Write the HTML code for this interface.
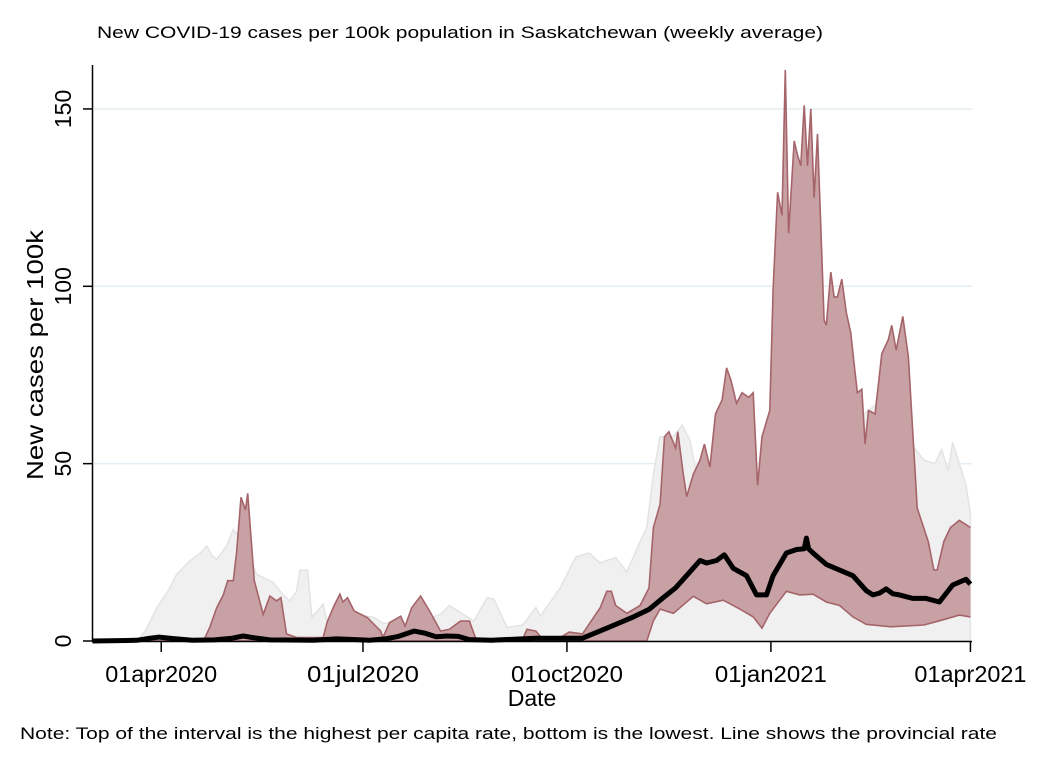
<!DOCTYPE html>
<html><head><meta charset="utf-8">
<style>
html,body{margin:0;padding:0;background:#fff;}
svg{display:block;font-family:"Liberation Sans",Arial,sans-serif;}
</style></head>
<body>
<svg id="chart" width="1050" height="764" viewBox="0 0 1050 764">
  <rect x="0" y="0" width="1050" height="764" fill="#fff"/>
  <text x="97" y="38" font-size="17" textLength="726" lengthAdjust="spacingAndGlyphs" fill="#000">New COVID-19 cases per 100k population in Saskatchewan (weekly average)</text>
  <g id="grid"></g>
  <g id="series"></g>
  <g id="axes"></g>
  <text x="532" y="706" font-size="23" text-anchor="middle">Date</text>
  <text transform="translate(43,355) rotate(-90)" font-size="23" text-anchor="middle" textLength="250" lengthAdjust="spacingAndGlyphs">New cases per 100k</text>
  <text x="20" y="739" font-size="17" textLength="977" lengthAdjust="spacingAndGlyphs">Note: Top of the interval is the highest per capita rate, bottom is the lowest. Line shows the provincial rate</text>
</svg>
<script>
// days since 01mar2020
const greyDays = [0,20,24,29,34,38,44,49,51.5,54,56,60.5,63.5,68,72,74,81.5,86,89,92,93.6,97,99,104,107,112,119,127,131,142,150,157,161,166,172,178,181,187,194,200,202,211,218,224,229,232,236,241,247,250,253,256,262,266,269.5,272.5,280,300,320,340,354,362,370,375,380,383,386,388,391,394,396];
const greyTop = [0,0,3,9.4,14,18.8,22.6,25,26.8,24,23,26.8,31.5,28,22,18.8,16.5,13,11.3,14,20,20,6.6,10.4,2,5,7.5,6.6,5,5,6,7.5,10,8,5.6,12.2,11.8,3.8,4.5,9.4,7,15,23.7,24.8,22,22.7,23.5,19.5,28,32,47,57.6,57.6,60.8,56.6,47,45,40,55,60,67,60,55,51,50,54,48,56,50,44,36];
const maxDays = [0,50,53,56,59,61,63.5,65,67,69,70,73,77,80,83,85,87.5,92,104,106,109,111.6,113,115,118,124,130,131,134,139,141,144,148,152,157,161,166,170,173,194,196,200,203,211,215,221,229,232,234,236,241,247,251,253,256,258,260,263,264,266.5,268,271,274,276,278.5,281,284,286,288,290.5,293,296,298,300,302,305.5,307,309,311,312.5,314,316.5,318,319.5,321,322.5,324,325.5,327,330,331,333,334.5,336,338,340,342,344,345,347,348.5,350,353,356,359,360.5,362.5,365.5,368,372,377,379.5,381,384,387,391,393.5,396];
const maxRate = [0,0,4,9.4,13,17,17,25,40.5,37,41.6,17,7.5,12.7,11.3,12.2,2,1,1,5.6,10,13.2,11,12.2,8.5,6.6,2.8,1,5.2,7,4.2,9.4,12.7,8.5,2.8,3.3,5.6,5.6,0.5,0.5,3.3,2.8,0.5,1,2.5,2,9.4,14,14,10,7.8,10,15,32,38.6,57.6,59,54.4,59,47,40.7,47,51,55.5,49,64,68,77,73.5,67,70,68.7,70,43.9,57.6,65,99,126.5,120,161,115,141,137,134,151,134,150,125,143,90.5,89,104,97,97,102,92.6,87,75.6,70,71,55.5,65,64,81,85,89,82,91.5,80,37.5,28,20,20,28,32,34,33,32];
const minDays = [0,250,253,256,262,271,277,284.5,292,298,302,305.5,313,319,325,331,337,343,349,360,375,382,391,396];
const minRate = [0,0,5.7,9,7.8,12.6,10.5,11.5,9,6.8,3.6,7.8,14,13,13.2,11,10,6.8,4.7,4,4.5,5.7,7.3,6.8];
const provDays = [0,20,26,30,36,45,55,63,68,72,80,100,110,115,125,132,138,145,150,155,160,165,170,180,190,200,210,221,232,244,251,257,263,269.5,274,277,281.5,285,289,295,299.5,304,307,313,317.6,321,322,323,325,331,337,343,349,352,355,358,361,364,370,376,382,388,394,396];
const provRate = [0,0.2,0.8,1.1,0.7,0.2,0.3,0.8,1.4,1,0.3,0.2,0.6,0.5,0.2,0.6,1.3,2.8,2.2,1.2,1.4,1.3,0.4,0.2,0.5,0.8,0.8,0.8,3.6,6.8,8.9,12,15,19.5,22.7,22,22.7,24.3,20.5,18.4,13,13,18.4,24.8,25.8,26,29,26,24.8,21.6,20,18.4,14.2,13,13.5,14.7,13.3,13,12,12,11,15.8,17.4,16];
const yTicks = [0,50,100,150];
const xTickDays = [31,122,214,306,396];
const xTickLabels = ["01apr2020","01jul2020","01oct2020","01jan2021","01apr2021"];

const NS="http://www.w3.org/2000/svg";
const X0=92.5, PXDAY=2.217, Y0=641, PXUNIT=3.547;
function xs(d){return X0+d*PXDAY;}
function ys(v){return Y0-v*PXUNIT;}
function mk(tag,attrs,parent){const e=document.createElementNS(NS,tag);for(const k in attrs)e.setAttribute(k,attrs[k]);parent.appendChild(e);return e;}
const grid=document.getElementById('grid'), ser=document.getElementById('series'), axes=document.getElementById('axes');

yTicks.forEach(v=>{
  if(v>0){const g=mk('line',{x1:93,x2:972,y1:ys(v),y2:ys(v),stroke:'#e4edf1','stroke-width':1.5},grid);
  
  }
});

function areaPath(d1,v1,d2,v2){
  let p='M'+xs(d1[0])+','+ys(v1[0]);
  for(let i=1;i<d1.length;i++)p+='L'+xs(d1[i]).toFixed(1)+','+ys(v1[i]).toFixed(1);
  for(let i=d2.length-1;i>=0;i--)p+='L'+xs(d2[i]).toFixed(1)+','+ys(v2[i]).toFixed(1);
  return p+'Z';
}
function linePath(d,v){let p='';for(let i=0;i<d.length;i++)p+=(i?'L':'M')+xs(d[i]).toFixed(1)+','+ys(v[i]).toFixed(1);return p;}

const ga=mk('path',{d:areaPath(greyDays,greyTop,[0,396],[0,0]),fill:'#f0f0f0',stroke:'#e3e3e3','stroke-width':1.5},ser);


const ra=mk('path',{d:areaPath(maxDays,maxRate,minDays,minRate),fill:'#c8a1a4',stroke:'none'},ser);


const rt=mk('path',{d:linePath(maxDays,maxRate),fill:'none',stroke:'#a5646a','stroke-width':1.6},ser);


const rb=mk('path',{d:linePath(minDays,minRate),fill:'none',stroke:'#a5646a','stroke-width':1.6},ser);


const pl=mk('path',{d:linePath(provDays,provRate),fill:'none',stroke:'#000','stroke-width':5,'stroke-linejoin':'round'},ser);



const ya=mk('line',{x1:92.5,x2:92.5,y1:65,y2:Y0+0.5,stroke:'#000','stroke-width':1.5},axes);


const xa=mk('line',{x1:92,x2:972,y1:Y0+0.5,y2:Y0+0.5,stroke:'#000','stroke-width':1.5},axes);


yTicks.forEach(v=>{
  const t=mk('line',{x1:83,x2:92.5,y1:ys(v),y2:ys(v),stroke:'#000','stroke-width':1.5},axes);
  
  
  const l=mk('text',{transform:'translate(71,'+ys(v)+') rotate(-90)','font-size':23,'text-anchor':'middle'},axes);
  l.textContent=v;
  
  
});
xTickDays.forEach((d,i)=>{
  const t=mk('line',{x1:xs(d),x2:xs(d),y1:Y0,y2:Y0+11,stroke:'#000','stroke-width':1.5},axes);
  
  
  const l=mk('text',{x:xs(d),y:682,'font-size':23,'text-anchor':'middle','textLength':112,'lengthAdjust':'spacingAndGlyphs'},axes);
  l.textContent=xTickLabels[i];
  
  
});
</script>
</body></html>
